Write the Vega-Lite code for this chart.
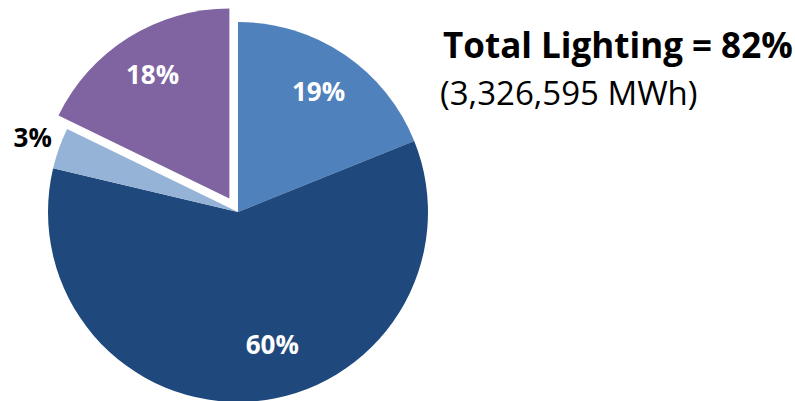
{
  "$schema": "https://vega.github.io/schema/vega-lite/v6.json",
  "width": 795,
  "height": 401,
  "autosize": {"type": "fit", "contains": "padding"},
  "padding": 0,
  "background": "white",
  "view": {"stroke": null},
  "data": {
    "values": [
      {"key": "a", "label": "19%", "value": 18.9, "ord": 1},
      {"key": "b", "label": "60%", "value": 59.8, "ord": 2},
      {"key": "c", "label": "3%", "value": 3.5, "ord": 3},
      {"key": "d", "label": "18%", "value": 17.8, "ord": 4}
    ]
  },
  "encoding": {
    "theta": {"field": "value", "type": "quantitative", "stack": true, "scale": {"domain": [0, 100]}},
    "order": {"field": "ord", "type": "ordinal"},
    "color": {"field": "key", "type": "nominal", "legend": null,
      "scale": {"domain": ["a", "b", "c", "d"], "range": ["#4F81BD", "#1F497D", "#95B3D7", "#8064A2"]}}
  },
  "layer": [
    {
      "mark": {"type": "arc", "outerRadius": 190, "x": 238, "y": 212},
      "encoding": {"opacity": {"condition": {"test": "datum.key === 'd'", "value": 0}, "value": 1}}
    },
    {
      "mark": {"type": "arc", "outerRadius": 190, "x": 229.4, "y": 198.5},
      "encoding": {"opacity": {"condition": {"test": "datum.key === 'd'", "value": 1}, "value": 0}}
    },
    {
      "mark": {"type": "text", "radius": 144, "x": 238, "y": 212, "font": "Open Sans", "fontWeight": "bold", "fontSize": 26, "align": "center", "baseline": "middle"},
      "encoding": {"text": {"field": "label"}, "color": {"value": "white"},
        "opacity": {"condition": {"test": "datum.key === 'a'", "value": 1}, "value": 0}}
    },
    {
      "mark": {"type": "text", "radius": 137, "x": 238, "y": 212, "xOffset": 24, "yOffset": -3, "font": "Open Sans", "fontWeight": "bold", "fontSize": 26, "align": "center", "baseline": "middle"},
      "encoding": {"text": {"field": "label"}, "color": {"value": "white"},
        "opacity": {"condition": {"test": "datum.key === 'b'", "value": 1}, "value": 0}}
    },
    {
      "mark": {"type": "text", "radius": 218, "x": 238, "y": 212, "font": "Open Sans", "fontWeight": "bold", "fontSize": 26, "align": "center", "baseline": "middle"},
      "encoding": {"text": {"field": "label"}, "color": {"value": "black"},
        "opacity": {"condition": {"test": "datum.key === 'c'", "value": 1}, "value": 0}}
    },
    {
      "mark": {"type": "text", "radius": 145, "x": 229.4, "y": 198.5, "font": "Open Sans", "fontWeight": "bold", "fontSize": 26, "align": "center", "baseline": "middle"},
      "encoding": {"text": {"field": "label"}, "color": {"value": "white"},
        "opacity": {"condition": {"test": "datum.key === 'd'", "value": 1}, "value": 0}}
    },
    {
      "data": {"values": [{"t": "Total Lighting = 82%"}]},
      "mark": {"type": "text", "x": 443, "y": 58, "font": "Open Sans", "fontWeight": "bold", "fontSize": 35, "align": "left", "baseline": "alphabetic", "color": "black"},
      "encoding": {"text": {"field": "t"}, "theta": null, "order": null, "color": null}
    },
    {
      "data": {"values": [{"t": "(3,326,595 MWh)"}]},
      "mark": {"type": "text", "x": 440, "y": 105, "font": "Open Sans", "fontSize": 33, "align": "left", "baseline": "alphabetic", "color": "black"},
      "encoding": {"text": {"field": "t"}, "theta": null, "order": null, "color": null}
    }
  ]
}
